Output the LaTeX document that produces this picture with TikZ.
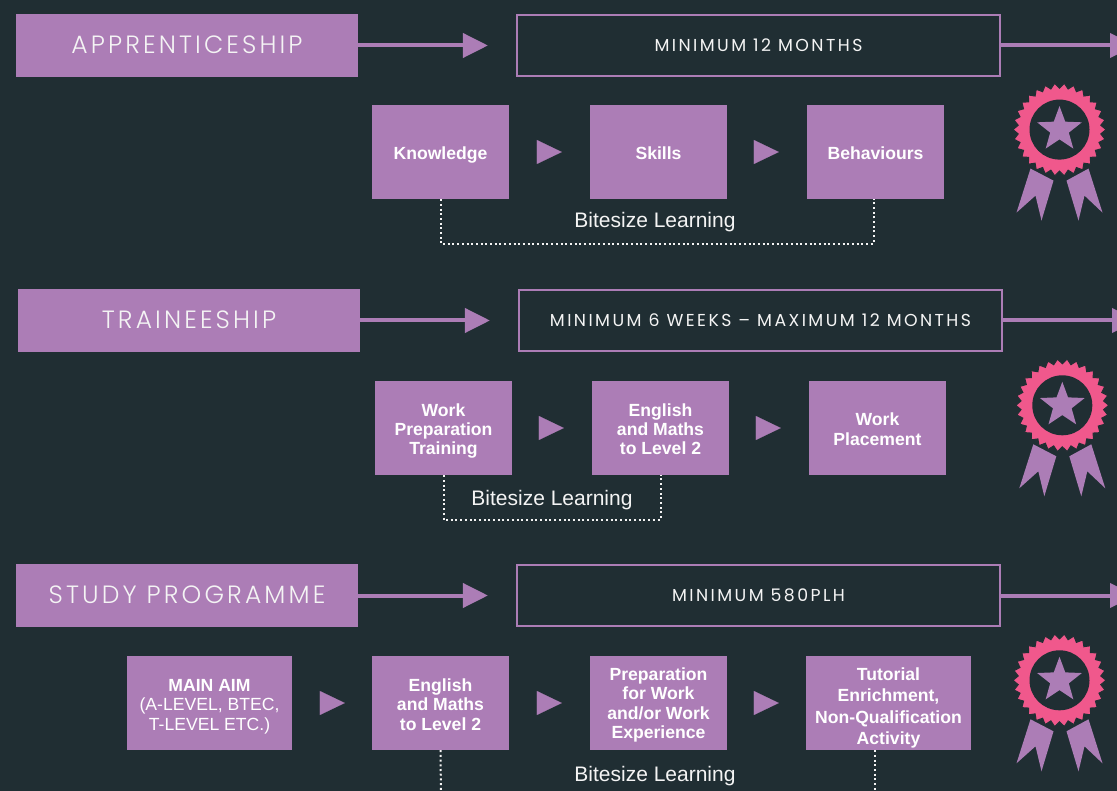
\documentclass[tikz,border=0pt]{standalone}
\usepackage{fontspec}
\setmainfont{Liberation Sans}
\newfontfamily\headfont[UprightFont=* Light,LetterSpace=12.5]{Poppins}
\newfontfamily\spanfont[LetterSpace=14]{Poppins}
\newcommand{\topgap}[1]{\rule{0pt}{#1pt}}
\usetikzlibrary{arrows.meta}
\definecolor{bgc}{HTML}{202E33}
\definecolor{purp}{HTML}{AC7DB6}
\definecolor{pinkc}{HTML}{F0588C}
\definecolor{txt}{HTML}{F4F4F4}
\tikzset{
  title/.style={fill=purp,text=txt,minimum width=342pt,minimum height=63pt,inner sep=0pt,text depth=2pt,font=\headfont\fontsize{25}{28}\selectfont},
  span/.style={draw=purp,line width=2.2pt,text=txt,minimum width=483pt,minimum height=61pt,inner sep=0pt,font=\spanfont\fontsize{17.3}{20}\selectfont},
  pbox/.style={fill=purp,text=white,minimum width=137pt,minimum height=94pt,inner sep=0pt,align=center,text depth=0pt,font=\bfseries\fontsize{17.6}{19.5}\selectfont},
  bite/.style={text=txt,inner sep=0pt,text depth=0pt,font=\fontsize{21}{24}\selectfont},
  bigarrow/.style={draw=purp,line width=4pt,-{Triangle[length=25pt,width=24pt,fill=purp]}},
  headonly/.style={draw=purp,line width=0.1pt,shorten <=28pt,shorten >=28pt,-{Triangle[length=25pt,width=24pt,fill=purp]}},
  dotline/.style={draw=txt,line width=2pt,dash pattern=on 2pt off 2.7pt},
  badge/.pic={
    \fill[purp] (-29,39)--(-6,51)--(-18,91)--(-24,66)--(-43,83)--cycle;
    \fill[purp] (29,39)--(7,51)--(19,91)--(25,66)--(43,83)--cycle;
    \draw[bgc,fill=pinkc,line width=1pt] plot[samples=61,domain=0:60] (\x*6:{ifthenelse(mod(round(\x),2)==0,46.5,41.5)}) -- cycle;
    \fill[bgc] (0,0) circle (30);
    \fill[purp] plot[samples=11,domain=0:10] ({\x*36-90}:{ifthenelse(mod(round(\x),2)==0,23.5,9.8)}) -- cycle;
  },
}
\begin{document}
\begin{tikzpicture}[x=1pt,y=-1pt]
\useasboundingbox (0,0) rectangle (1117,791);
\clip (0,0) rectangle (1117,791);
\fill[bgc] (0,0) rectangle (1117,791);

% Row 1
\node[title] (t1) at (187,45.5) {APPRENTICESHIP};
\node[span] (s1) at (758.5,45.5) {MINIMUM 12 MONTHS};
\coordinate (e1) at (1135,45.5);
\draw[bigarrow,shorten >=28pt] (t1) -- (s1);
\draw[bigarrow] (s1) -- (e1);
\node[pbox] (a1) at (440.5,152) {\topgap{14.5}Knowledge};
\node[pbox] (a2) at (658.5,152) {\topgap{14.5}Skills};
\node[pbox] (a3) at (875.5,152) {\topgap{14.5}Behaviours};
\draw[headonly] (a1) -- (a2);
\draw[headonly] (a2) -- (a3);
\node[bite] (b1) at (655,220) {Bitesize Learning};
\draw[dotline] (a1.south) -- ++(0,44.5) -| ([xshift=-2pt]a3.south);
\pic at (1059.5,129.6) {badge};

% Row 2
\node[title] (t2) at (189,320.5) {TRAINEESHIP};
\node[span] (s2) at (760.5,320.5) {MINIMUM 6 WEEKS – MAXIMUM 12 MONTHS};
\coordinate (e2) at (1137,320.5);
\draw[bigarrow,shorten >=28pt] (t2) -- (s2);
\draw[bigarrow] (s2) -- (e2);
\node[pbox] (c1) at (443.5,428) {\topgap{15}Work\\Preparation\\Training};
\node[pbox] (c2) at (660.5,428) {\topgap{15}English\\and Maths\\to Level 2};
\node[pbox] (c3) at (877.5,428) {\topgap{15}Work\\Placement};
\draw[headonly] (c1) -- (c2);
\draw[headonly] (c2) -- (c3);
\node[bite] (b2) at (552,498) {Bitesize Learning};
\draw[dotline] (c1.south) -- ++(0,44.5) -| (c2.south);
\pic at (1062.3,405.3) {badge};

% Row 3
\node[title] (t3) at (187,595.5) {STUDY PROGRAMME};
\node[span] (s3) at (758.5,595.5) {MINIMUM 580PLH};
\coordinate (e3) at (1135,595.5);
\draw[bigarrow,shorten >=28pt] (t3) -- (s3);
\draw[bigarrow] (s3) -- (e3);
\node[pbox,minimum width=165pt] (d0) at (209.5,703) {\topgap{15}MAIN AIM\\\mdseries (A-LEVEL, BTEC,\\\mdseries T-LEVEL ETC.)};
\node[pbox] (d1) at (440.5,703) {\topgap{15}English\\and Maths\\to Level 2};
\node[pbox] (d2) at (658.5,703) {Preparation\\for Work\\and/or Work\\Experience};
\node[pbox,minimum width=165pt,font=\bfseries\fontsize{17.6}{21.2}\selectfont] (d3) at (888.5,703) {\topgap{19}Tutorial\\Enrichment,\\Non-Qualification\\Activity};
\draw[headonly,shorten <=28pt,shorten >=27pt] (d0) -- (d1);
\draw[headonly] (d1) -- (d2);
\draw[headonly,shorten >=27pt] (d2) -- (d3);
\node[bite] (b3) at (655,774) {Bitesize Learning};
\coordinate (f1) at (441,800);
\coordinate (f2) at (875,800);
\draw[dotline] (d1.south) -- (f1);
\draw[dotline] (d3.south -| f2) -- (f2);
\pic at (1059.5,680.3) {badge};
\end{tikzpicture}
\end{document}
